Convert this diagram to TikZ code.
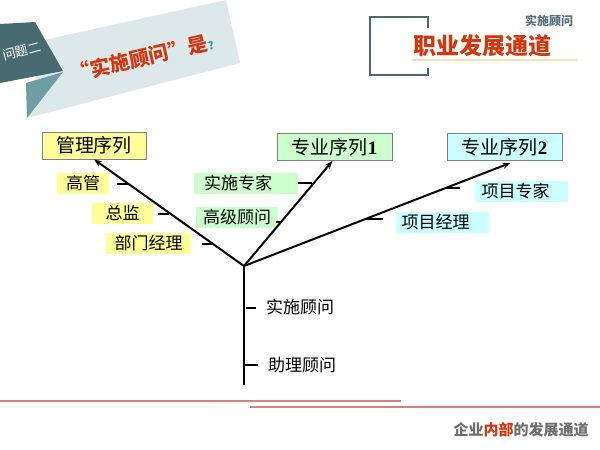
\documentclass[tikz,border=0pt]{standalone}
\usepackage{fontspec}
\setmainfont{Liberation Serif}
\newfontfamily\cjk{Noto Sans CJK SC}
\usetikzlibrary{arrows.meta}
\definecolor{tealdark}{HTML}{476B71}
\definecolor{teallight}{HTML}{6E9DA3}
\definecolor{bandc}{HTML}{DDE8EA}
\definecolor{redt}{HTML}{D2380F}
\definecolor{qmark}{HTML}{2A9DA8}
\definecolor{ybg}{HTML}{FFFF99}
\definecolor{gbg}{HTML}{CCFFCC}
\definecolor{cbg}{HTML}{CCFFFF}
\definecolor{boxline}{HTML}{808080}
\definecolor{redline}{HTML}{D98080}
\definecolor{footgrey}{HTML}{6E6E6E}
\definecolor{subgrey}{HTML}{55707A}
\definecolor{uline}{HTML}{F6E2B0}
\tikzset{
  seqbox/.style={draw=boxline, line width=0.8pt, minimum height=27pt, inner sep=0pt, font=\cjk\fontsize{19}{19}\selectfont},
  lab/.style={inner sep=0pt, minimum height=21pt, font=\cjk\fontsize{17}{17}\selectfont},
  branch/.style={line width=2pt, -{Stealth[length=8pt,width=6pt]}},
  tick/.style={line width=1.5pt},
}
\begin{document}
\begin{tikzpicture}[x=1pt,y=-1pt]
\fill[white] (0,0) rectangle (600,450);
\useasboundingbox (0,0) rectangle (600,450);
% banner
\fill[bandc] (44,40) -- (226,0) -- (240,63) -- (27,118) -- cycle;
\fill[teallight] (26,83) -- (63,72) -- (27,118) -- cycle;
\fill[tealdark] (0,24) -- (35,22) -- (63,71) -- (0,83) -- cycle;
\node[rotate=15, text=white, font=\cjk\fontsize{13}{13}\selectfont] (q2) at (22,51) {问题二};
\node[rotate=13, font=\cjk\bfseries\fontsize{20}{20}\selectfont, text=redt] (qtitle) at (142,58) {“实施顾问”是{\color{qmark}\fontsize{11}{11}\selectfont ?}};
% top right
\draw[tealdark, line width=2pt] (428,28) -- (428,17) -- (370,17) -- (370,75) -- (428,75) -- (428,68);
\node[font=\cjk\bfseries\fontsize{12}{12}\selectfont, text=subgrey] (sub) at (549,21) {实施顾问};
\node[font=\cjk\bfseries\fontsize{23}{23}\selectfont, text=redt] (title) at (482,46) {职业发展通道};
\draw[uline, line width=1.5pt] (412,60) -- (578,60);
% sequence boxes
\node[seqbox, fill=ybg, minimum width=104pt] (mgmt) at (94,145.5) {管理序列};
\node[seqbox, fill=gbg, minimum width=115pt] (pro1) at (334.5,147) {专业序列{\rmfamily\bfseries 1}};
\node[seqbox, fill=cbg, minimum width=115pt] (pro2) at (504.5,147) {专业序列{\rmfamily\bfseries 2}};
% labels
\node[lab, fill=ybg, minimum width=52pt] (gg) at (83,183) {高管};
\node[lab, fill=ybg, minimum width=61pt] (zj) at (122.5,213) {总监};
\node[lab, fill=ybg, minimum width=85pt] (bm) at (148.5,243.5) {部门经理};
\node[lab, fill=gbg, minimum width=104pt] (sz) at (246,183) {\hspace*{-16pt}实施专家};
\node[lab, fill=gbg, minimum width=82pt] (gj) at (237,217.5) {高级顾问};
\node[lab, fill=cbg, minimum width=93pt] (xz) at (521.5,191) {\hspace*{-12pt}项目专家};
\node[lab, fill=cbg, minimum width=93pt] (xj) at (442.5,222.5) {\hspace*{-14pt}项目经理};
\node[lab] (ss) at (300,307) {实施顾问};
\node[lab] (zl) at (302,365) {助理顾问};
% tree
\coordinate (root) at (244,266);
\coordinate (base) at (244,385);
\draw[line width=2pt] (root) -- (base);
\draw[branch] (root) -- (mgmt.south);
\draw[branch] (root) -- ([xshift=-2pt]pro1.south);
\draw[branch] (root) -- ([xshift=6pt,yshift=-2pt]pro2.south);
% ticks
\draw[tick] (117,184) -- (128,184);
\draw[tick] (158,214) -- (169,214);
\draw[tick] (202,244) -- (212,244);
\draw[tick] (298,183) -- (312,183);
\draw[tick] (276,222) -- (281,222);
\draw[tick] (445,188) -- (460,188);
\draw[tick] (366,219) -- (383,219);
\draw[tick] (246,308) -- (256,308);
\draw[tick] (245,365) -- (258,365);
% footer
\draw[redline, line width=1.5pt] (0,401) -- (401,401);
\draw[redline, line width=1.5pt] (250,407) -- (600,407);
\node[font=\cjk\bfseries\fontsize{15}{15}\selectfont, text=footgrey] (foot) at (521,430) {企业{\color{redt}内部}的发展通道};
\end{tikzpicture}
\end{document}
